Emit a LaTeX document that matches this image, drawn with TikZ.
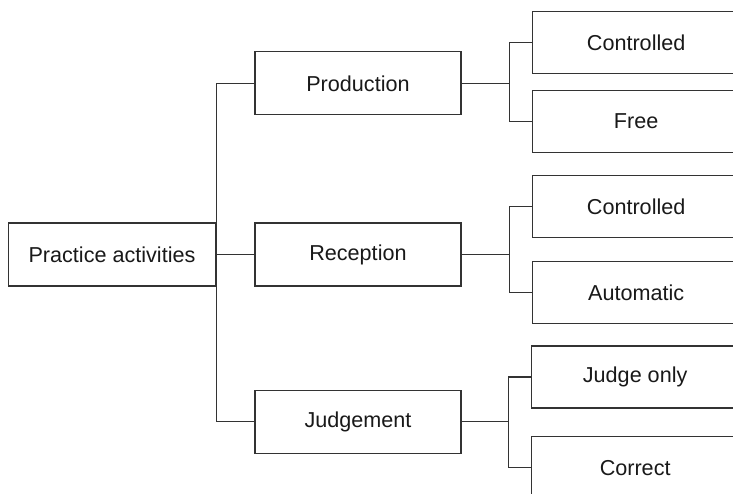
\documentclass[tikz,border=0pt]{standalone}
\usepackage{fontspec}
\setmainfont{Liberation Sans}
\usepackage{tikz}
\usetikzlibrary{positioning}

\begin{document}
\begin{tikzpicture}[
                line width=0.6pt, draw=black!80,
                block/.style={draw=black!80, fill=white, minimum width=103pt,
                              minimum height=31.5pt, inner sep=0pt, text=black!90,
                              font=\fontsize{10.8}{13}\selectfont},
                leaf/.style={block, minimum width=104pt, minimum height=31pt}
            ]
            \useasboundingbox (0,0) rectangle (366.5pt,-246.5pt);
            \node[block, minimum width=103.75pt] (root) at (56pt,-127.25pt) {Practice activities};
            \node[block, right=19pt of root] (rec) {Reception};
            \node[block, above=53.5pt of rec] (prod) {Production};
            \node[block, below=51.5pt of rec] (judg) {Judgement};
            \node[leaf, right=35pt of prod, yshift=20.3pt] (pc) {Controlled};
            \node[leaf, right=35pt of prod, yshift=-18.9pt] (pf) {Free};
            \node[leaf, right=35pt of rec, yshift=23.9pt] (rc) {Controlled};
            \node[leaf, right=35pt of rec, yshift=-19pt] (ra) {Automatic};
            \node[leaf, right=34.5pt of judg, yshift=22.4pt] (jo) {Judge only};
            \node[leaf, right=34.5pt of judg, yshift=-23pt] (jc) {Correct};
            \draw[black!80] (root.east) -- (rec.west);
            \draw[black!80] (prod.west) -| ([xshift=-19pt]rec.west) |- (judg.west);
            \draw[black!80] (prod.east) -- ++(24pt,0);
            \draw[black!80] (pc.west) -- ++(-11pt,0) |- (pf.west);
            \draw[black!80] (rec.east) -- ++(24pt,0);
            \draw[black!80] (rc.west) -- ++(-11pt,0) |- (ra.west);
            \draw[black!80] (judg.east) -- ++(23.5pt,0);
            \draw[black!80] (jo.west) -- ++(-11pt,0) |- (jc.west);
            \end{tikzpicture}
\end{document}
